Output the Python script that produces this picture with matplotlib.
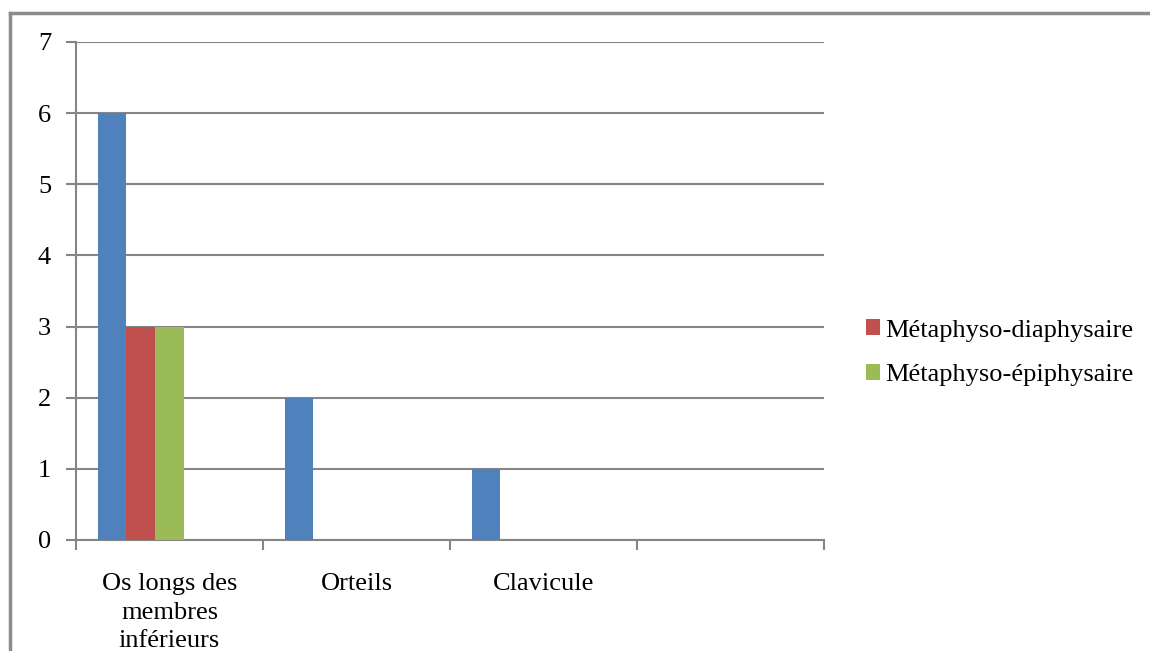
import matplotlib.pyplot as plt
from matplotlib.lines import Line2D
from matplotlib.patches import Patch

plt.rcParams['font.family'] = ['Liberation Serif', 'DejaVu Serif']

categories = ['Os longs des\nmembres\ninférieurs', 'Orteils', 'Clavicule', '']
series_names = ['Total', 'Métaphyso-diaphysaire', 'Métaphyso-épiphysaire', 'S4', 'S5']
total = [6, 2, 1, 0]
meta_dia = [3, 0, 0, 0]
meta_epi = [3, 0, 0, 0]
s4 = [0, 0, 0, 0]
s5 = [0, 0, 0, 0]
colors = ['#4f81bd', '#c0504d', '#9bbb59', '#8064a2', '#4bacc6']

fig = plt.figure(figsize=(11.5, 6.51), dpi=100)
ax = fig.add_axes([76 / 1150, 1 - 540 / 651, (824 - 76) / 1150, (540 - 42) / 651])

# clustered bars, Excel-style layout: 5 series, gap width 150%
series = [total, meta_dia, meta_epi, s4, s5]
n = len(series)
slot = n + 1.5
w = 1 / slot
for j, vals in enumerate(series):
    xs = [i + (0.75 + j) * w for i in range(len(categories))]
    ax.bar(xs, vals, width=w, align='edge', color=colors[j], linewidth=0, zorder=3)

ax.set_xlim(0, len(categories))
ax.set_ylim(0, 7)
ax.set_yticks(range(8))
ax.grid(axis='y', color='#868686', linewidth=1.5, zorder=0)
ax.set_xticks(range(len(categories) + 1))
ax.set_xticklabels([])
ax.set_xticks([i + 0.5 for i in range(len(categories))], minor=True)
ax.set_xticklabels(categories, minor=True, fontsize=19, linespacing=1.38, va='top')
ax.tick_params(axis='x', which='minor', length=0, pad=24)
ax.tick_params(axis='x', which='major', length=7, width=1.5, color='#868686')
ax.tick_params(axis='y', length=7, width=1.5, color='#868686', labelsize=19, pad=11)
for s in ['top', 'right']:
    ax.spines[s].set_visible(False)
for s in ['left', 'bottom']:
    ax.spines[s].set_color('#868686')
    ax.spines[s].set_linewidth(1.5)

handles = [Patch(facecolor=colors[1], edgecolor='none'), Patch(facecolor=colors[2], edgecolor='none')]
fig.legend(handles, series_names[1:3], loc='center left', bbox_to_anchor=(842 / 1150, 1 - 353 / 651),
           frameon=False, fontsize=19, handlelength=0.55, handleheight=0.55, handletextpad=0.2,
           labelspacing=0.85)

# chart-area border
fig.add_artist(Line2D([10 / 1150, 1], [1 - 13 / 651] * 2, color='#8c8c8c', linewidth=2.5))
fig.add_artist(Line2D([10 / 1150] * 2, [0, 1 - 13 / 651], color='#8c8c8c', linewidth=2.5))

fig.savefig('out.png', dpi=100)
